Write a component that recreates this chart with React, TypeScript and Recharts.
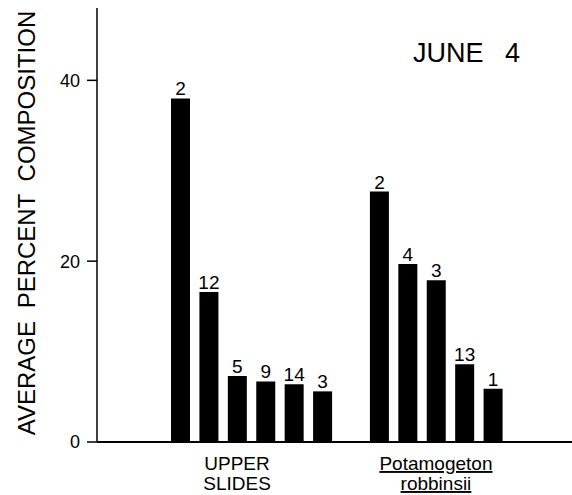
import React from 'react';
import { BarChart, Bar, XAxis, YAxis, LabelList } from 'recharts';

// one slot per bar, with an empty slot between the two groups
const slots = ['u1', 'u2', 'u3', 'u4', 'u5', 'u6', 'gap', 'p1', 'p2', 'p3', 'p4', 'p5'];
const percent = [38.0, 16.6, 7.3, 6.7, 6.4, 5.6, null, 27.7, 19.7, 17.9, 8.6, 5.9];
const sampleCounts = ['2', '12', '5', '9', '14', '3', '', '2', '4', '3', '13', '1'];
const groupLabels = [
    { slot: 'u3', lines: ['UPPER', 'SLIDES'], underline: false },
    { slot: 'p3', lines: ['Potamogeton', 'robbinsii'], underline: true },
];
const yTicks = [0, 20, 40];

const data = slots.map((s, i) => ({ slot: s, value: percent[i], n: sampleCounts[i] }));

const FONT = '"Liberation Sans", Arial, sans-serif';

const GroupTick = (props: any) => {
    const { x, y, payload } = props;
    const g = groupLabels.find((d) => d.slot === payload.value);
    if (!g) return null;
    return (
        <g>
            {g.lines.map((line, i) => (
                <text
                    key={line}
                    x={x}
                    y={y + 28 + i * 20}
                    textAnchor="middle"
                    fontFamily={FONT}
                    fontSize={19}
                    fill="#000"
                    textDecoration={g.underline ? 'underline' : undefined}
                >
                    {line}
                </text>
            ))}
        </g>
    );
};

const YLabel = () => (
    <text
        x={26}
        y={223}
        transform="rotate(-90 26 223)"
        textAnchor="middle"
        dominantBaseline="central"
        fontFamily={FONT}
        fontSize={24}
        wordSpacing={6}
        fill="#000"
    >
        AVERAGE PERCENT COMPOSITION
    </text>
);

const App = () => {
    return (
        <div style={{ position: 'absolute', left: 0, top: 0, width: 572, height: 495, background: '#fff' }}>
            <BarChart
                width={572}
                height={495}
                data={data}
                margin={{ top: 8, right: 0, bottom: 0, left: 0 }}
            >
                <XAxis
                    dataKey="slot"
                    type="category"
                    padding={{ left: 69, right: 65 }}
                    height={53}
                    tickSize={0}
                    tickMargin={0}
                    tickLine={false}
                    tick={<GroupTick />}
                    interval={0}
                    axisLine={{ stroke: '#000', strokeWidth: 2 }}
                />
                <YAxis
                    type="number"
                    domain={[0, 48]}
                    ticks={yTicks}
                    width={97}
                    tickSize={10}
                    tickMargin={7}
                    tick={{ fontFamily: FONT, fontSize: 18, fill: '#000' }}
                    tickLine={{ stroke: '#000', strokeWidth: 1.5 }}
                    axisLine={{ stroke: '#000', strokeWidth: 1.5 }}
                    label={<YLabel />}
                />
                <Bar dataKey="value" fill="#000" barSize={19} isAnimationActive={false}>
                    <LabelList
                        dataKey="n"
                        position="top"
                        offset={3}
                        fontFamily={FONT}
                        fontSize={19}
                        fill="#000"
                    />
                </Bar>
            </BarChart>
            <svg width={572} height={495} style={{ position: 'absolute', left: 0, top: 0, pointerEvents: 'none' }}>
                <text x={413} y={62} fontFamily={FONT} fontSize={27} fill="#000">JUNE</text>
                <text x={505} y={62} fontFamily={FONT} fontSize={27} fill="#000">4</text>
            </svg>
        </div>
    );
};

export default App;
